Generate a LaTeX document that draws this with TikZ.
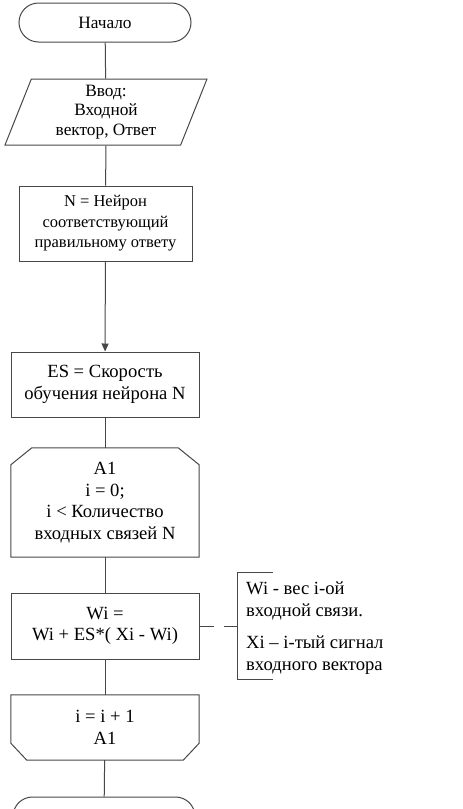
\documentclass[tikz,border=0pt]{standalone}
\usepackage{fontspec}
\setmainfont{Liberation Serif}
\usetikzlibrary{arrows.meta,shapes.geometric}
\begin{document}
\begin{tikzpicture}[x=1pt,y=-1pt,
  every node/.style={align=center, inner sep=0pt, text=black},
  txtsmall/.style={font=\fontsize{16.5}{20.5}\selectfont},
  txtmid/.style={font=\fontsize{17.3}{19.5}\selectfont},
  txtbig/.style={font=\fontsize{18.6}{21.5}\selectfont},
  outline/.style={draw=black!72, line width=1pt},
  term/.style={outline, rounded corners=19.5pt, minimum height=39pt},
  iobox/.style={outline, trapezium, trapezium left angle=64, trapezium right angle=116,
    trapezium stretches body=true, minimum height=66pt, minimum width=202pt},
  proc/.style={outline, rectangle, minimum width=188pt},
  frame/.style={rectangle, minimum width=188pt},
  link/.style={draw=black!72, line width=1pt},
  notelink/.style={link, dash pattern=on 14pt off 10pt}]
\useasboundingbox (0,0) rectangle (463,809);

% main flow
\node[term, txtmid, minimum width=172pt] (start) at (105,22.5) {Начало};
\node[iobox, txtmid] (io) at (106,112) {Ввод:\\Входной\\вектор, Ответ};
\node[proc, txtsmall, minimum width=173pt, minimum height=75pt] (neuron) at (105.5,223.5)
  {N = Нейрон\\соответствующий\\правильному ответу};
\node[proc, txtbig, minimum height=65pt] (rate) at (105,384.5) {ES = Скорость\\обучения нейрона N};

% loop start: top corners cut off
\node[frame, txtbig, minimum height=109pt] (loop) at (105,502.5)
  {A1\\i = 0;\\i < Количество\\входных связей N};
\draw[outline] (loop.south west) -- ([yshift=-17pt]loop.north west)
  -- ([xshift=21pt]loop.north west) -- ([xshift=-21pt]loop.north east)
  -- ([yshift=-17pt]loop.north east) -- (loop.south east) -- cycle;

\node[proc, txtbig, minimum height=66pt] (update) at (105,626) {Wi =\\Wi + ES*( Xi - Wi)};

% loop end: bottom corners cut off
\node[frame, txtbig, minimum height=65pt] (next) at (105,727.5) {i = i + 1\\A1};
\draw[outline] (next.north west) -- (next.north east)
  -- ([yshift=17pt]next.south east) -- ([xshift=-16pt]next.south east)
  -- ([xshift=16pt]next.south west) -- ([yshift=17pt]next.south west) -- cycle;

\node[term, minimum width=182pt] (stop) at (104,816.5) {};

\draw[link] (start) -- (io);
\draw[link] (io) -- (neuron);
\draw[link, -{Triangle[length=8pt,width=7pt]}] (neuron) -- (rate);
\draw[link] (rate) -- (loop);
\draw[link] (loop) -- (update);
\draw[link] (update) -- (next);
\draw[link] (next) -- (stop);

% comment on the update step
\node[minimum width=35pt, minimum height=106pt] (brk) at (255.5,626) {};
\draw[link] (brk.north east) -- (brk.north west) -- (brk.south west) -- (brk.south east);
\node[txtbig, anchor=west, align=left] (note) at (246,628)
  {Wi - вес i-ой\\входной связи.\\[11pt]Xi – i-тый сигнал\\входного вектора};
\draw[notelink] (update.east) -- (brk.west);
\end{tikzpicture}
\end{document}
